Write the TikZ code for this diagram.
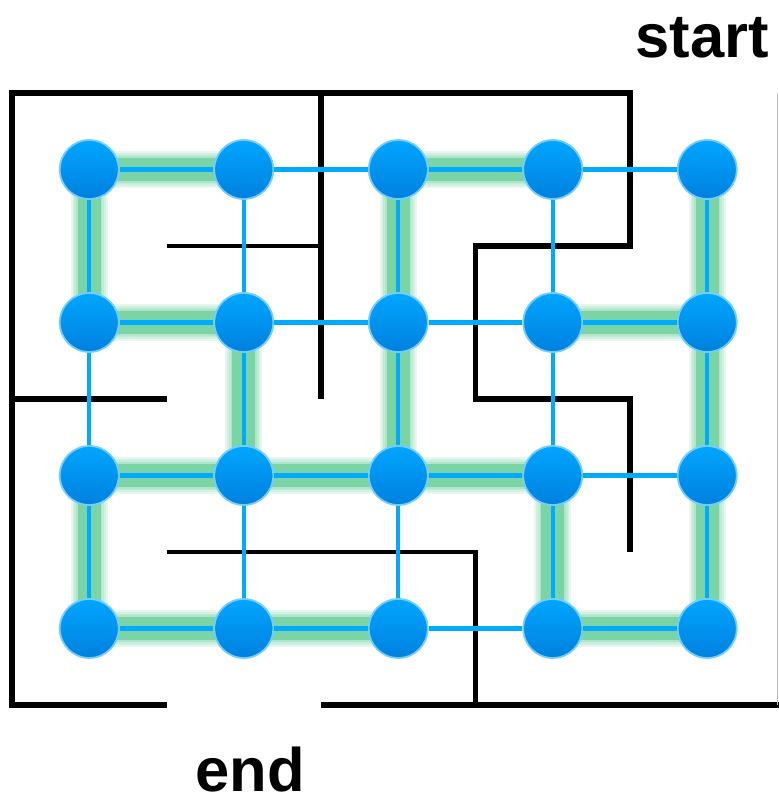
\documentclass[tikz,border=0pt]{standalone}
\usepackage{fontspec}
\setmainfont{Liberation Sans}
\definecolor{nodeblue}{RGB}{0,166,255}
\definecolor{nodedeep}{RGB}{0,128,222}
\definecolor{linkblue}{RGB}{0,170,255}
\definecolor{glowgreen}{RGB}{70,195,130}
\pgfdeclarelayer{background}
\pgfsetlayers{background,main}
\tikzset{
  gridnode/.style={circle,inner sep=0pt,minimum size=0.59cm,top color=nodeblue,bottom color=nodedeep,draw=nodeblue!55!white,line width=0.5pt},
  link/.style={linkblue,line width=1.15pt},
  wall/.style={black,line width=1.7pt},
  thinwall/.style={black,line width=1.3pt},
  haze/.style={glowgreen,line width=#1,opacity=.13},
  tag/.style={font=\fontsize{17.5}{21}\selectfont\bfseries,inner sep=0pt,anchor=base}
}
\newcommand{\gridnode}[3]{\node[gridnode] (#1) at (#2,#3) {};}
\newcommand{\gridlink}[2]{\draw[link] (#1) -- (#2);}
\newcommand{\treelink}[2]{\begin{pgfonlayer}{background}
  \draw[haze=10.5pt] (#1.center) -- (#2.center);  \draw[haze=9.5pt] (#1.center) -- (#2.center);
  \draw[haze=8.5pt] (#1.center) -- (#2.center);   \draw[haze=7.5pt] (#1.center) -- (#2.center);
  \draw[glowgreen,line width=6.5pt,opacity=.5] (#1.center) -- (#2.center);
  \end{pgfonlayer}\draw[link] (#1) -- (#2);}

\begin{document}
\begin{tikzpicture}[x=1.545cm,y=1.53cm]
    \useasboundingbox (-0.0777,-0.621) rectangle (4.964,4.608);
    % maze walls
    \draw[wall] (4,1) -- (4,2) -- (3,2) -- (3,3) -- (4,3) -- (4,4) -- (0,4) -- (0,0) -- (1,0);
    \draw[wall] (2,4) -- (2,2);  \draw[thinwall] (1,3) -- (2,3);  \draw[wall] (0,2) -- (1,2);
    \draw[thinwall] (1,1) -- (3,1) -- (3,0);  \draw[wall] (2,0) -- (4.97,0);
    \draw[black!25,line width=0.4pt] (4.955,0) -- (4.955,4);
    \node[tag] (start) at (4.466,4.235) {start};
    \node[tag] (end) at (1.54,-0.565) {end};
    % cells
    \gridnode{a1}{0.5}{3.5} \gridnode{a2}{1.5}{3.5} \gridnode{a3}{2.5}{3.5} \gridnode{a4}{3.5}{3.5} \gridnode{a5}{4.5}{3.5}
    \gridnode{b1}{0.5}{2.5} \gridnode{b2}{1.5}{2.5} \gridnode{b3}{2.5}{2.5} \gridnode{b4}{3.5}{2.5} \gridnode{b5}{4.5}{2.5}
    \gridnode{c1}{0.5}{1.5} \gridnode{c2}{1.5}{1.5} \gridnode{c3}{2.5}{1.5} \gridnode{c4}{3.5}{1.5} \gridnode{c5}{4.5}{1.5}
    \gridnode{d1}{0.5}{0.5} \gridnode{d2}{1.5}{0.5} \gridnode{d3}{2.5}{0.5} \gridnode{d4}{3.5}{0.5} \gridnode{d5}{4.5}{0.5}
    % rows
    \treelink{a1}{a2}\gridlink{a2}{a3}\treelink{a3}{a4}\gridlink{a4}{a5}
    \treelink{b1}{b2}\gridlink{b2}{b3}\gridlink{b3}{b4}\treelink{b4}{b5}
    \treelink{c1}{c2}\treelink{c2}{c3}\treelink{c3}{c4}\gridlink{c4}{c5}
    \treelink{d1}{d2}\treelink{d2}{d3}\gridlink{d3}{d4}\treelink{d4}{d5}
    % columns
    \treelink{a1}{b1}\gridlink{b1}{c1}\treelink{c1}{d1}
    \gridlink{a2}{b2}\treelink{b2}{c2}\gridlink{c2}{d2}
    \treelink{a3}{b3}\treelink{b3}{c3}\gridlink{c3}{d3}
    \gridlink{a4}{b4}\gridlink{b4}{c4}\treelink{c4}{d4}
    \treelink{a5}{b5}\treelink{b5}{c5}\treelink{c5}{d5}
\end{tikzpicture}
\end{document}
